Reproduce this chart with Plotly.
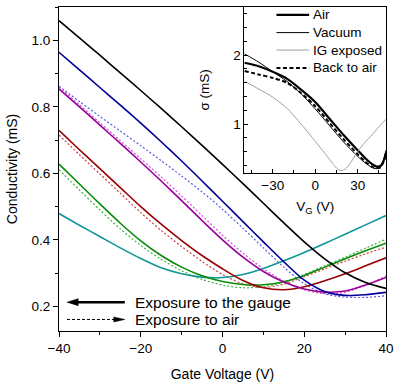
import plotly.graph_objects as go

# ---------------- main panel data ----------------
gate_v = [-40, -35, -30, -25, -20, -15, -10, -5, 0, 5, 10, 15, 20, 25, 30, 35, 40]

black_s = [1.059, 1.007, 0.955, 0.902, 0.849, 0.795, 0.740, 0.684, 0.627, 0.569, 0.510, 0.451, 0.394, 0.343, 0.301, 0.272, 0.254]
blue_s = [0.964, 0.911, 0.858, 0.805, 0.751, 0.695, 0.637, 0.577, 0.516, 0.455, 0.394, 0.334, 0.279, 0.245, 0.233, 0.235, 0.242]
blue_d = [0.862, 0.816, 0.771, 0.727, 0.683, 0.638, 0.592, 0.544, 0.492, 0.435, 0.376, 0.318, 0.268, 0.238, 0.228, 0.227, 0.232]
purple_s = [0.854, 0.800, 0.745, 0.690, 0.634, 0.577, 0.518, 0.458, 0.400, 0.348, 0.305, 0.273, 0.252, 0.243, 0.246, 0.264, 0.287]
purple_d = [0.860, 0.806, 0.752, 0.698, 0.644, 0.589, 0.532, 0.473, 0.414, 0.360, 0.313, 0.276, 0.250, 0.238, 0.242, 0.264, 0.291]
red_s = [0.729, 0.671, 0.614, 0.557, 0.500, 0.447, 0.398, 0.353, 0.313, 0.278, 0.256, 0.250, 0.259, 0.277, 0.298, 0.322, 0.346]
red_d = [0.715, 0.656, 0.598, 0.540, 0.482, 0.428, 0.380, 0.335, 0.296, 0.268, 0.257, 0.267, 0.289, 0.313, 0.336, 0.358, 0.378]
green_s = [0.628, 0.568, 0.508, 0.450, 0.397, 0.353, 0.318, 0.292, 0.275, 0.266, 0.265, 0.274, 0.293, 0.318, 0.343, 0.367, 0.390]
green_d = [0.611, 0.550, 0.490, 0.433, 0.383, 0.341, 0.307, 0.281, 0.264, 0.256, 0.259, 0.273, 0.296, 0.322, 0.348, 0.375, 0.402]
teal_s = [0.479, 0.444, 0.410, 0.376, 0.344, 0.316, 0.298, 0.288, 0.287, 0.296, 0.314, 0.337, 0.362, 0.389, 0.417, 0.445, 0.473]

# ---------------- inset data ----------------
inset_v = [-50, -40, -30, -20, -10, 0, 10, 20, 30, 35, 40, 43, 46, 48, 50]
inset_air = [1.89, 1.84, 1.76, 1.66, 1.50, 1.32, 1.08, 0.84, 0.62, 0.51, 0.42, 0.385, 0.39, 0.45, 0.58]
inset_vac = [2.02, 1.90, 1.76, 1.62, 1.44, 1.22, 0.98, 0.74, 0.53, 0.44, 0.37, 0.35, 0.37, 0.46, 0.62]
inset_back = [1.77, 1.72, 1.67, 1.60, 1.45, 1.26, 1.02, 0.78, 0.56, 0.46, 0.38, 0.36, 0.37, 0.44, 0.54]
ig_v = [-50, -40, -30, -20, -10, 0, 5, 10, 13, 15, 17, 19, 21, 25, 30, 35, 40, 45, 50]
inset_ig = [1.62, 1.51, 1.39, 1.23, 1.00, 0.75, 0.62, 0.49, 0.41, 0.36, 0.33, 0.325, 0.34, 0.44, 0.60, 0.73, 0.84, 0.96, 1.07]

legend_names = ["Air", "Vacuum", "IG exposed", "Back to air"]
note_texts = ["Exposure to the gauge", "Exposure to air"]

FONT = "Liberation Sans, Arial, Helvetica, sans-serif"

fig = go.Figure()

main_series = [
    (blue_d, "#5a5ae6", "dot"),
    (purple_d, "#d050d0", "dot"),
    (red_d, "#d04040", "dot"),
    (green_d, "#40b040", "dot"),
    (teal_s, "#10959a", "solid"),
    (green_s, "#0a8a0a", "solid"),
    (red_s, "#990000", "solid"),
    (purple_s, "#990099", "solid"),
    (blue_s, "#000099", "solid"),
    (black_s, "#000000", "solid"),
]
for ys, col, style in main_series:
    fig.add_trace(go.Scatter(
        x=gate_v, y=ys, mode="lines", showlegend=False,
        line=dict(color=col, width=1.2 if style == "dot" else 1.6,
                  dash="2px,2px" if style == "dot" else "solid",
                  shape="spline", smoothing=0.8),
        xaxis="x", yaxis="y", hoverinfo="skip"))

inset_styles = [
    (inset_v, inset_air, "#000000", 2.2, "solid"),
    (inset_v, inset_vac, "#000000", 1.0, "solid"),
    (ig_v, inset_ig, "#a0a0a0", 1.0, "solid"),
    (inset_v, inset_back, "#000000", 2.0, "4px,2.5px"),
]
for name, (xs, ys, col, w, d) in zip(legend_names, inset_styles):
    fig.add_trace(go.Scatter(
        x=xs, y=ys, mode="lines", name=name, showlegend=False,
        line=dict(color=col, width=w, dash=d, shape="spline", smoothing=0.8),
        xaxis="x2", yaxis="y2", hoverinfo="skip"))

axis_common = dict(showline=True, linecolor="black", linewidth=1, mirror=True,
                   showgrid=False, zeroline=False, tickcolor="black",
                   tickfont=dict(family=FONT, size=13.5, color="black"))

fig.update_layout(
    width=400, height=385,
    margin=dict(l=59, r=13, t=6, b=49),
    paper_bgcolor="white", plot_bgcolor="white",
    font=dict(family=FONT, size=13.5, color="black"),
    showlegend=False,
    xaxis=dict(domain=[0, 1], range=[-40, 40], tickvals=[-40, -20, 0, 20, 40],
               ticks="outside", ticklen=5, anchor="y",
               minor=dict(dtick=10, tick0=0, ticks="outside", ticklen=3, tickcolor="black"),
               title=dict(text="Gate Voltage (V)", font=dict(family=FONT, size=14), standoff=13),
               **axis_common),
    yaxis=dict(domain=[0, 1], range=[0.126, 1.10], tickvals=[0.2, 0.4, 0.6, 0.8, 1.0],
               tickformat=".1f", ticks="outside", ticklen=5, anchor="x",
               minor=dict(dtick=0.1, tick0=0, ticks="outside", ticklen=3, tickcolor="black"),
               title=dict(text="Conductivity (mS)", font=dict(family=FONT, size=14), standoff=10),
               **axis_common),
    xaxis2=dict(domain=[0.567, 1], range=[-50, 50], tickvals=[-30, 0, 30],
                ticks="inside", ticklen=4, anchor="y2",
                minor=dict(dtick=15, tick0=0, ticks="inside", ticklen=3, tickcolor="black"),
                title=dict(text="V<sub>G</sub> (V)", font=dict(family=FONT, size=13.5), standoff=9),
                **axis_common),
    yaxis2=dict(domain=[0.488, 1], range=[0.29, 2.7], tickvals=[1, 2],
                ticks="inside", ticklen=4, anchor="x2",
                minor=dict(dtick=0.2, tick0=0, ticks="inside", ticklen=3, tickcolor="black"),
                title=dict(text="σ (mS)", font=dict(family=FONT, size=13.5), standoff=20),
                **axis_common),
)

# white background for the inset
fig.add_shape(type="rect", xref="x2 domain", yref="y2 domain", x0=0, x1=1, y0=0, y1=1,
              fillcolor="white", line=dict(width=0), layer="below")

# hand-made legend for the inset (paper coords of the plot area)
leg_y = [0.976, 0.921, 0.867, 0.812]
for name, (xs, ys, col, w, d), yy in zip(legend_names, inset_styles, leg_y):
    fig.add_shape(type="line", xref="paper", yref="paper", x0=0.665, x1=0.765, y0=yy, y1=yy,
                  line=dict(color=col, width=w, dash=d))
    fig.add_annotation(x=0.771, y=yy, xref="paper", yref="paper", text=name, showarrow=False,
                       xanchor="left", yanchor="middle", font=dict(family=FONT, size=13.5))

# arrows in the lower-left corner
fig.add_shape(type="line", xref="x", yref="y", x0=-35.6, x1=-23.9, y0=0.2127, y1=0.2127,
              line=dict(color="black", width=2.5))
fig.add_shape(type="path", xref="x", yref="y",
              path="M -38.05,0.2127 L -35.3,0.2232 L -35.3,0.2022 Z",
              fillcolor="black", line=dict(color="black", width=0.5))
fig.add_shape(type="line", xref="x", yref="y", x0=-38.05, x1=-26.4, y0=0.1607, y1=0.1607,
              line=dict(color="black", width=1, dash="3px,2px"))
fig.add_shape(type="path", xref="x", yref="y",
              path="M -23.9,0.1607 L -26.6,0.1682 L -26.6,0.1532 Z",
              fillcolor="black", line=dict(color="black", width=0.5))
fig.add_annotation(x=-21.95, y=0.2127, xref="x", yref="y", text=note_texts[0],
                   showarrow=False, xanchor="left", font=dict(family=FONT, size=15.5))
fig.add_annotation(x=-21.95, y=0.1607, xref="x", yref="y", text=note_texts[1],
                   showarrow=False, xanchor="left", font=dict(family=FONT, size=15.5))

fig.write_html("out.html", config={"displayModeBar": False},
               post_script="document.body.style.margin='0';")
